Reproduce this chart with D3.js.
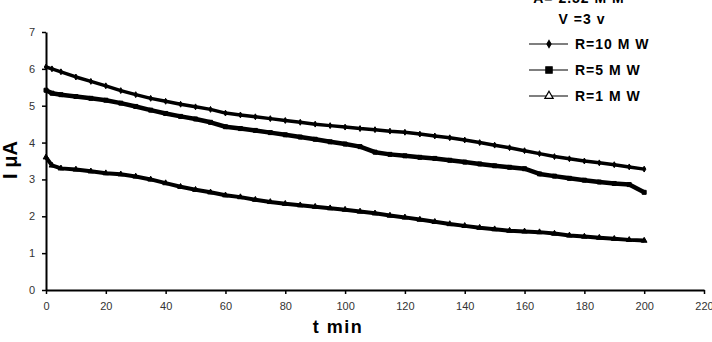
<!DOCTYPE html>
<html><head><meta charset="utf-8">
<script src="https://cdn.jsdelivr.net/npm/d3@7"></script>
<style>
html,body{margin:0;padding:0;background:#fff;}
svg{display:block;}
</style></head>
<body>
<svg id="chart" width="712" height="342"></svg>
<script>
const times = [0,2,5,10,15,20,25,30,35,40,45,50,55,60,65,70,75,80,85,90,95,100,105,110,115,120,125,130,135,140,145,150,155,160,165,170,175,180,185,190,195,200];
const r10 = [6.05,6.0,5.92,5.78,5.66,5.54,5.41,5.3,5.2,5.12,5.04,4.97,4.9,4.8,4.75,4.7,4.65,4.6,4.55,4.5,4.46,4.42,4.38,4.35,4.31,4.28,4.23,4.18,4.13,4.07,4.0,3.93,3.86,3.78,3.7,3.62,3.56,3.5,3.45,3.4,3.34,3.28];
const r5 = [5.42,5.34,5.3,5.25,5.2,5.15,5.07,4.98,4.88,4.79,4.71,4.64,4.55,4.43,4.38,4.33,4.27,4.21,4.15,4.09,4.02,3.96,3.89,3.74,3.68,3.64,3.6,3.57,3.52,3.47,3.42,3.37,3.33,3.29,3.15,3.09,3.03,2.98,2.93,2.89,2.86,2.65];
const r1 = [3.6,3.38,3.3,3.27,3.22,3.17,3.14,3.08,3.0,2.9,2.8,2.72,2.65,2.57,2.52,2.45,2.39,2.34,2.3,2.26,2.22,2.18,2.13,2.08,2.02,1.97,1.91,1.85,1.79,1.74,1.69,1.65,1.61,1.59,1.57,1.53,1.48,1.45,1.42,1.39,1.36,1.34];
const seriesNames = ["R=10 M W","R=5 M W","R=1 M W"];
const xTicks = [0,20,40,60,80,100,120,140,160,180,200,220];
const yTicks = [0,1,2,3,4,5,6,7];

const svg = d3.select("#chart");
const x = d3.scaleLinear().domain([0,220]).range([46,704]);
const y = d3.scaleLinear().domain([0,7]).range([290,32]);
const FONT = "Liberation Sans, Arial, sans-serif";

const styles = [
  {sym:d3.symbolDiamond, size:10, fill:"#000", lw:3.5, msize:14},
  {sym:d3.symbolSquare, size:16, fill:"#000", lw:4.5, msize:40},
  {sym:d3.symbolTriangle, size:14, fill:"#000", lw:4, msize:30, lfill:"#fff"}
];
const allSeries = [r10, r5, r1];

// axes
const xAxis = d3.axisBottom(x).tickValues(xTicks).tickSize(4).tickPadding(6).tickSizeOuter(0).tickFormat(d3.format("d"));
const gx = svg.append("g").attr("transform","translate(0,290)").call(xAxis);
gx.select(".domain").attr("stroke","#000").attr("stroke-width",2);
gx.selectAll(".tick line").attr("stroke","#000").attr("stroke-width",1.5);
gx.selectAll(".tick text").attr("font-family",FONT).attr("font-size",11).attr("fill","#333").attr("dy","0.9em");

const yAxis = d3.axisLeft(y).tickValues(yTicks).tickSize(4).tickPadding(7).tickSizeOuter(0).tickFormat(d3.format("d"));
const gy = svg.append("g").attr("transform","translate(46,0)").call(yAxis);
gy.select(".domain").attr("stroke","#000").attr("stroke-width",2);
gy.selectAll(".tick line").attr("stroke","#000").attr("stroke-width",1.5);
gy.selectAll(".tick text").attr("font-family",FONT).attr("font-size",11).attr("fill","#333");

// series
allSeries.forEach((vals,i)=>{
  const st = styles[i];
  const pts = times.map((t,j)=>[t,vals[j]]);
  const line = d3.line().x(d=>x(d[0])).y(d=>y(d[1]));
  svg.append("path").datum(pts).attr("d",line).attr("fill","none").attr("stroke","#000").attr("stroke-width",st.lw).attr("stroke-linejoin","round");
  svg.append("g").selectAll("path").data(pts).join("path")
    .attr("transform",d=>`translate(${x(d[0])},${y(d[1])})`)
    .attr("d",d3.symbol().type(st.sym).size(st.size))
    .attr("fill",st.fill).attr("stroke","#000").attr("stroke-width",1);
});

// axis titles
svg.append("text").attr("x",338).attr("y",333).attr("text-anchor","middle")
  .attr("font-family",FONT).attr("font-weight","bold").attr("font-size",18)
  .attr("letter-spacing",1.5).text("t min");
svg.append("text").attr("transform","translate(16.5,160) rotate(-90)").attr("text-anchor","middle")
  .attr("font-family",FONT).attr("font-weight","bold").attr("font-size",20)
  .text("I μA");

// header texts
svg.append("text").attr("x",579).attr("y",3).attr("text-anchor","middle")
  .attr("font-family",FONT).attr("font-weight","bold").attr("font-size",14)
  .attr("letter-spacing",1).text("A= 2.52 M M");
svg.append("text").attr("x",582).attr("y",24).attr("text-anchor","middle")
  .attr("font-family",FONT).attr("font-weight","bold").attr("font-size",14)
  .attr("letter-spacing",1).text("V =3 v");

// legend
const legY = [44,70,96];
seriesNames.forEach((name,i)=>{
  const st = styles[i];
  const g = svg.append("g").attr("transform",`translate(0,${legY[i]})`);
  g.append("line").attr("x1",529).attr("x2",568).attr("y1",0).attr("y2",0).attr("stroke","#000").attr("stroke-width",1.2);
  g.append("path").attr("transform","translate(549,0)").attr("d",d3.symbol().type(st.sym).size(st.msize))
    .attr("fill",st.lfill || st.fill).attr("stroke","#000").attr("stroke-width",1.2);
  g.append("text").attr("x",575).attr("y",5).attr("font-family",FONT)
    .attr("font-weight","bold").attr("font-size",14).attr("letter-spacing",1).text(name);
});
</script>
</body></html>
